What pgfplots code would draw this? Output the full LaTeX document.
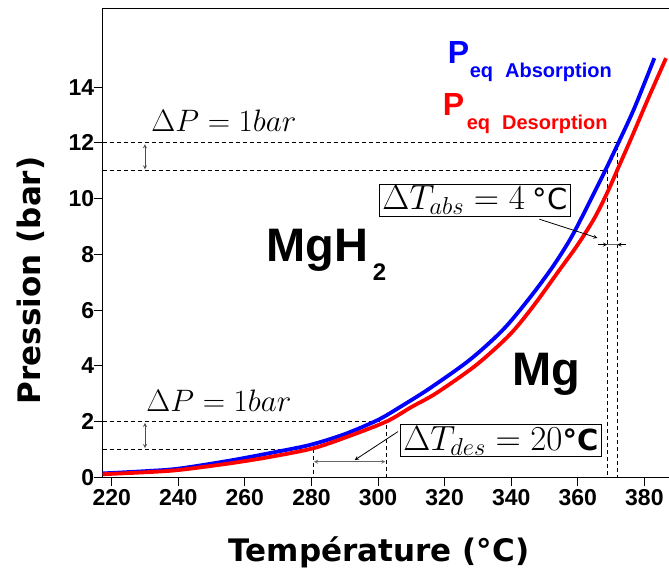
\RequirePackage{fix-cm}
\documentclass[border=0pt]{standalone}
\usepackage{fontspec}
\usepackage{pgfplots}
\pgfplotsset{compat=1.18}
\newfontfamily\lib{Liberation Sans}
\newfontfamily\dvs{DejaVu Sans}
\pgfplotstableread{
x y
217.3 0.14
230 0.22
240 0.31
255.5 0.60
268 0.88
279.5 1.16
290 1.55
300 2.06
307 2.55
315.5 3.19
327.5 4.21
337.5 5.29
345.5 6.43
352.5 7.56
358 8.6
363 9.75
368 10.95
372 11.95
377 13.25
383 15.04
}\absdata
\pgfplotstableread{
x y
217.3 0.11
230 0.18
240 0.26
255.5 0.50
268 0.74
280.5 1.04
290 1.42
302.5 2.0
310 2.52
317.5 3.02
329.5 4.03
339.5 5.11
346.5 6.12
354.5 7.44
360 8.35
365 9.3
369 10.25
372.5 11.2
376 12.15
381 13.55
386.5 15.04
}\desdata
\begin{document}
\begin{tikzpicture}
\begin{axis}[
 width=566.3pt, height=469pt, scale only axis,
 xmin=217.3, xmax=387.4, ymin=0, ymax=16.83,
 axis x line=box, axis y line=left,
 axis line style={-, line width=1.1pt},
 xtick={220,240,...,380}, ytick={0,2,...,14},
 xtick pos=left, tick align=outside, major tick length=9pt,
 tick style={line width=1pt, black},
 /pgf/number format/assume math mode=true,
 ticklabel style={font=\lib\bfseries\fontsize{23}{23}\selectfont},
 yticklabel style={xshift=4pt},
 xlabel={Température (°C)}, ylabel={Pression (bar)},
 label style={font=\dvs\bfseries\fontsize{31}{31}\selectfont},
 xlabel style={at={(axis description cs:0.488,-0.1785)}, anchor=base},
 ylabel style={at={(axis description cs:-0.1098,0.42)}, anchor=base},
]
\coordinate (SW) at (rel axis cs:0,0);
\coordinate (NE) at (rel axis cs:1,1);
% dashed guides
\draw[black, line width=0.9pt, dash pattern=on 4pt off 3pt] (axis cs:217.3,12) -- (axis cs:371.9,12) -- (axis cs:371.9,0);
\draw[black, line width=0.9pt, dash pattern=on 4pt off 3pt] (axis cs:217.3,11) -- (axis cs:368.8,11) -- (axis cs:368.8,0);
\draw[black, line width=0.9pt, dash pattern=on 4pt off 3pt] (axis cs:217.3,2) -- (axis cs:302.4,2) -- (axis cs:302.4,0);
\draw[black, line width=0.9pt, dash pattern=on 4pt off 3pt] (axis cs:217.3,1) -- (axis cs:280.6,1) -- (axis cs:280.6,0);
\addplot[blue, line width=3.8pt, smooth, line join=round] table[x=x,y=y] {\absdata};
\addplot[red, line width=3.8pt, smooth, line join=round] table[x=x,y=y] {\desdata};
% delta P arrows
\draw[<->, >=stealth, line width=0.8pt, black!70] (axis cs:230,11.05) -- (axis cs:230,11.95);
\draw[<->, >=stealth, line width=0.8pt, black!70] (axis cs:230,1.05) -- (axis cs:230,1.95);
% delta T arrows
\draw[<->, >=stealth, line width=0.8pt, black!60] (axis cs:280.8,0.56) -- (axis cs:302.2,0.56);
\draw[line width=0.8pt, black!60] (axis cs:366.2,8.35) -- (axis cs:374.5,8.35);
\draw[->, >=stealth, line width=0.8pt] (axis cs:366.2,8.35) -- (axis cs:368.8,8.35);
\draw[->, >=stealth, line width=0.8pt] (axis cs:374.5,8.35) -- (axis cs:371.9,8.35);
\draw[->, >=stealth, line width=0.8pt] (axis cs:348.5,9.26) -- (axis cs:365.9,8.59);
\draw[->, >=stealth, line width=0.8pt] (axis cs:306,1.64) -- (axis cs:293,0.62);
% boxes
\node[draw=black, fill=white, line width=0.8pt, inner ysep=1.5pt, inner xsep=3.5pt, font=\fontsize{35}{36}\selectfont] at (axis cs:329.1,9.95) {$\Delta T_{abs} = 4$\hspace{0.22em}{\dvs\fontsize{29}{29}\selectfont °C}};
\node[draw=black, fill=white, line width=0.8pt, inner ysep=1.5pt, inner xsep=3pt, font=\fontsize{35}{36}\selectfont] at (axis cs:336.9,1.31) {$\Delta T_{des} = 20${\dvs\bfseries\fontsize{29}{29}\selectfont °C}};
\node[anchor=base, inner sep=0pt, font=\fontsize{31}{32}\selectfont] at (axis cs:253.7,12.4) {$\Delta P = 1bar$};
\node[anchor=base, inner sep=0pt, font=\fontsize{31}{32}\selectfont] at (axis cs:252.2,2.35) {$\Delta P = 1bar$};
% phases
\node[anchor=base west, inner sep=0pt, font=\lib\bfseries\fontsize{47}{47}\selectfont] at (axis cs:266.5,7.74) {MgH};
\node[anchor=base west, inner sep=0pt, font=\lib\bfseries\fontsize{24}{24}\selectfont] at (axis cs:298.4,7.08) {2};
\node[anchor=base west, inner sep=0pt, font=\lib\bfseries\fontsize{47}{47}\selectfont] at (axis cs:340.4,3.31) {Mg};
% legend texts
\node[anchor=base west, inner sep=0pt, text=blue, font=\lib\bfseries\fontsize{32}{32}\selectfont] at (axis cs:320.9,14.86) {P};
\node[anchor=base west, inner sep=0pt, text=blue, font=\lib\bfseries\fontsize{20}{20}\selectfont] at (axis cs:327.5,14.36) {eq\hspace{0.6em}Absorption};
\node[anchor=base west, inner sep=0pt, text=red, font=\lib\bfseries\fontsize{32}{32}\selectfont] at (axis cs:319.4,13.0) {P};
\node[anchor=base west, inner sep=0pt, text=red, font=\lib\bfseries\fontsize{20}{20}\selectfont] at (axis cs:326.6,12.47) {eq\hspace{0.6em}Desorption};
\end{axis}
\pgfresetboundingbox
\path[use as bounding box] ([shift={(-102.7pt,-92.7pt)}]SW) rectangle ([shift={(0pt,8.3pt)}]NE);
\end{tikzpicture}
\end{document}
